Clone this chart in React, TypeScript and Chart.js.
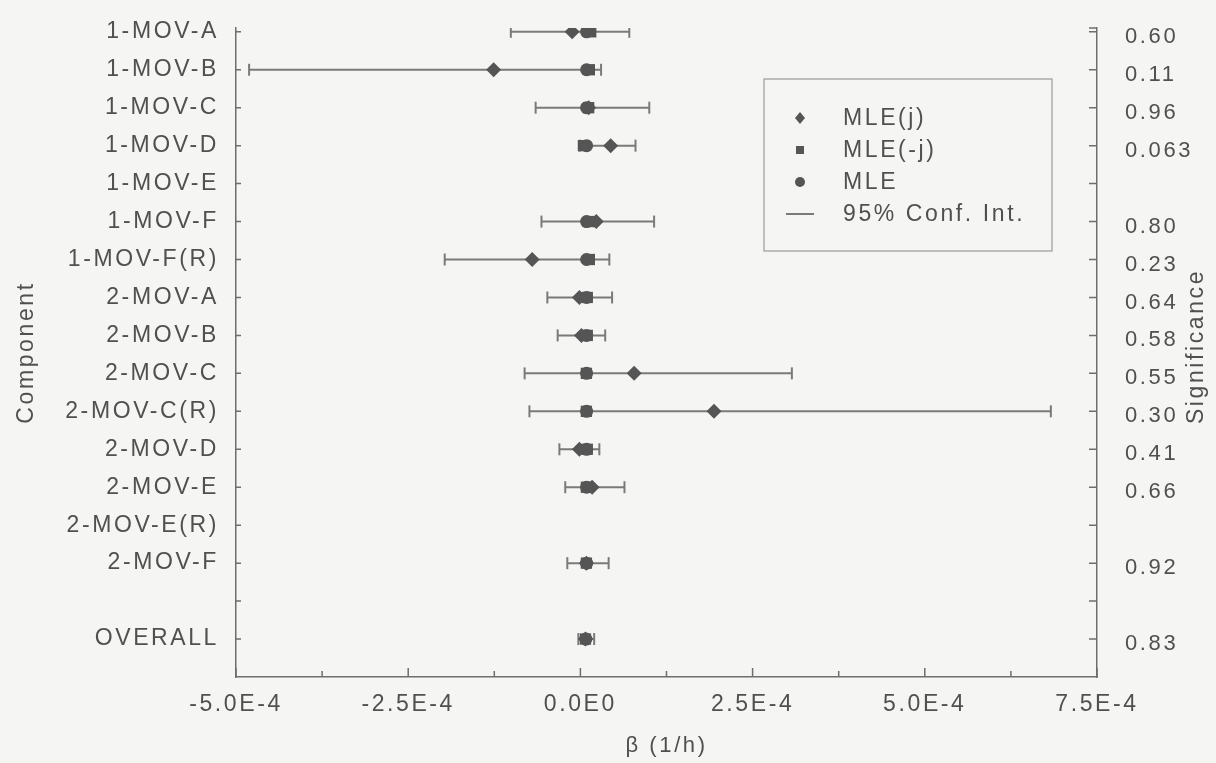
import React, { useEffect, useRef } from 'react';
import { Chart, registerables } from 'chart.js';

Chart.register(...registerables);

// ---------------- data ----------------
const categories = [
  '1-MOV-A', '1-MOV-B', '1-MOV-C', '1-MOV-D', '1-MOV-E', '1-MOV-F', '1-MOV-F(R)',
  '2-MOV-A', '2-MOV-B', '2-MOV-C', '2-MOV-C(R)', '2-MOV-D', '2-MOV-E', '2-MOV-E(R)',
  '2-MOV-F', '', 'OVERALL',
];

const significance = [
  '0.60', '0.11', '0.96', '0.063', '', '0.80', '0.23', '0.64', '0.58', '0.55',
  '0.30', '0.41', '0.66', '', '0.92', '', '0.83',
];

// MLE(j) – diamonds
const mleJ = [
  -1.2e-5, -1.26e-4, 1.2e-5, 4.4e-5, null, 2.3e-5, -7.0e-5, -1.5e-6, 1.5e-6, 7.8e-5,
  1.94e-4, -1.5e-6, 1.7e-5, null, 8.7e-6, null, 7.3e-6,
];

// MLE(-j) – squares
const mleNotJ = [
  1.5e-5, 1.3e-5, 1.2e-5, 4.4e-6, null, 1.3e-5, 1.3e-5, 1.0e-5, 1.0e-5, 8.7e-6,
  8.7e-6, 1.0e-5, 8.7e-6, null, 8.7e-6, null, 7.3e-6,
];

// MLE – circles
const mleAll = [
  9e-6, 9e-6, 9e-6, 9e-6, null, 9e-6, 9e-6, 9e-6, 9e-6, 9e-6,
  9e-6, 9e-6, 9e-6, null, 9e-6, null, 8e-6,
];

// 95% confidence interval bounds
const ciLow = [
  -1.01e-4, -4.81e-4, -6.5e-5, -1.0e-6, null, -5.65e-5, -1.97e-4, -4.8e-5, -3.3e-5, -8.1e-5,
  -7.4e-5, -3.05e-5, -2.2e-5, null, -1.9e-5, null, -3.0e-6,
];
const ciHigh = [
  7.1e-5, 3.0e-5, 1.0e-4, 8.0e-5, null, 1.07e-4, 4.2e-5, 4.6e-5, 3.6e-5, 3.07e-4,
  6.83e-4, 2.75e-5, 6.4e-5, null, 4.1e-5, null, 2.0e-5,
];

const xTickValues = [-5e-4, -3.75e-4, -2.5e-4, -1.25e-4, 0, 1.25e-4, 2.5e-4, 3.75e-4, 5e-4, 6.25e-4, 7.5e-4];
const xTickLabels = ['-5.0E-4', '', '-2.5E-4', '', '0.0E0', '', '2.5E-4', '', '5.0E-4', '', '7.5E-4'];

// ---------------- styles ----------------
const FONT = "'Liberation Sans', Arial, Helvetica, sans-serif";
const TEXT = '#505050';
const AXIS = '#6e6e6e';
const MARK = '#555555';
const CI_COLOR = '#7a7a7a';
const BG = '#f5f5f3';

const toPts = (arr: (number | null)[]) =>
  arr.map((v, i) => (v === null ? null : { x: v, y: i })).filter(Boolean) as { x: number; y: number }[];

const ciPts: { x: number; y: number }[] = [];
ciLow.forEach((lo, i) => {
  const hi = ciHigh[i];
  if (lo !== null && hi !== null) {
    ciPts.push({ x: lo, y: i });
    ciPts.push({ x: hi, y: i });
  }
});

const noPad = (s: any) => {
  s.paddingTop = 0;
  s.paddingBottom = 0;
};

const decorPlugin = {
  id: 'decor',
  beforeUpdate(chart: any) {
    chart.ctx.letterSpacing = '2.6px';
  },
  beforeDraw(chart: any) {
    const ctx = chart.ctx;
    ctx.save();
    ctx.fillStyle = BG;
    ctx.fillRect(0, 0, chart.width, chart.height);
    ctx.restore();
  },
  afterDraw(chart: any) {
    const { ctx, chartArea, scales } = chart;
    const xs = scales.x;
    const ys = scales.y;
    const { left, right, top, bottom } = chartArea;
    ctx.save();
    ctx.strokeStyle = AXIS;
    ctx.lineWidth = 1.5;
    ctx.beginPath();
    xTickValues.forEach((v, i) => {
      const px = xs.getPixelForValue(v);
      const len = xTickLabels[i] ? 9 : 6;
      ctx.moveTo(px, bottom);
      ctx.lineTo(px, bottom - len);
    });
    categories.forEach((_, i) => {
      const py = ys.getPixelForValue(i);
      ctx.moveTo(left, py);
      ctx.lineTo(left + 5, py);
      ctx.moveTo(right, py);
      ctx.lineTo(right - 8, py);
    });
    ctx.moveTo(right, top);
    ctx.lineTo(right - 8, top);
    ctx.stroke();

    // right axis title (reads bottom-to-top)
    ctx.fillStyle = TEXT;
    ctx.font = `23px ${FONT}`;
    ctx.textAlign = 'center';
    ctx.textBaseline = 'middle';
    ctx.save();
    ctx.translate(chart.width - 19, (top + bottom) / 2 - 6);
    ctx.rotate(-Math.PI / 2);
    ctx.fillText('Significance', 0, 0);
    ctx.restore();

    // legend box
    const bx = left + 528;
    const by = top + 51;
    const bw = 288;
    const bh = 172;
    ctx.strokeStyle = '#9a9a9a';
    ctx.lineWidth = 1.2;
    ctx.strokeRect(bx, by, bw, bh);
    const order = [0, 1, 2, 3];
    const sx = bx + 36;
    const tx = bx + 79;
    order.forEach((di, k) => {
      const ds = chart.data.datasets[di];
      const cy = by + 39 + k * 32;
      ctx.fillStyle = MARK;
      ctx.strokeStyle = MARK;
      if (ds.pointStyle === 'rectRot') {
        ctx.beginPath();
        ctx.moveTo(sx, cy - 6);
        ctx.lineTo(sx + 5, cy);
        ctx.lineTo(sx, cy + 6);
        ctx.lineTo(sx - 5, cy);
        ctx.closePath();
        ctx.fill();
      } else if (ds.pointStyle === 'rect') {
        ctx.fillRect(sx - 4, cy - 4, 8, 8);
      } else if (ds.pointStyle === 'circle') {
        ctx.beginPath();
        ctx.arc(sx, cy, 5, 0, Math.PI * 2);
        ctx.fill();
      } else {
        ctx.strokeStyle = CI_COLOR;
        ctx.lineWidth = 2;
        ctx.beginPath();
        ctx.moveTo(sx - 14, cy);
        ctx.lineTo(sx + 14, cy);
        ctx.stroke();
      }
      ctx.fillStyle = TEXT;
      ctx.font = `23px ${FONT}`;
      ctx.textAlign = 'left';
      ctx.textBaseline = 'middle';
      ctx.fillText(ds.label, tx, cy + 1);
    });
    ctx.restore();
  },
};

export default function App() {
  const ref = useRef<HTMLCanvasElement | null>(null);

  useEffect(() => {
    if (!ref.current) return;
    const chart = new Chart(ref.current, {
      type: 'scatter',
      data: {
        datasets: [
          {
            label: 'MLE(j)',
            data: toPts(mleJ),
            pointStyle: 'rectRot',
            pointRadius: 7.5,
            backgroundColor: MARK,
            borderColor: MARK,
            borderWidth: 0,
            order: 1,
          },
          {
            label: 'MLE(-j)',
            data: toPts(mleNotJ),
            pointStyle: 'rect',
            pointRadius: 8,
            backgroundColor: MARK,
            borderColor: MARK,
            borderWidth: 0,
            order: 2,
          },
          {
            label: 'MLE',
            data: toPts(mleAll),
            pointStyle: 'circle',
            pointRadius: 6.5,
            backgroundColor: MARK,
            borderColor: MARK,
            borderWidth: 0,
            order: 3,
          },
          {
            label: '95% Conf. Int.',
            data: ciPts,
            showLine: true,
            borderColor: CI_COLOR,
            borderWidth: 2,
            pointStyle: 'line',
            pointRotation: 90,
            pointRadius: 6,
            pointBorderWidth: 2,
            pointBorderColor: CI_COLOR,
            backgroundColor: CI_COLOR,
            segment: {
              borderColor: (c: any) => (c.p0.parsed.y === c.p1.parsed.y ? CI_COLOR : 'rgba(0,0,0,0)'),
            },
            order: 4,
          } as any,
        ],
      },
      options: {
        animation: false,
        responsive: true,
        maintainAspectRatio: false,
        layout: { padding: { top: 28, right: 0, bottom: 0, left: 0 } },
        plugins: {
          legend: { display: false },
          tooltip: { enabled: false },
        },
        scales: {
          x: {
            type: 'linear',
            position: 'bottom',
            min: -5e-4,
            max: 7.5e-4,
            afterBuildTicks: (s: any) => {
              s.ticks = xTickValues.map((v) => ({ value: v }));
            },
            afterFit: (s: any) => {
              s.height = 86;
              s.paddingLeft = 0;
              s.paddingRight = 0;
            },
            grid: { display: false },
            border: { display: true, color: AXIS, width: 1.5 },
            ticks: {
              autoSkip: false,
              maxRotation: 0,
              padding: 6,
              color: TEXT,
              font: { family: FONT, size: 23 },
              callback: (_v: any, i: number) => xTickLabels[i],
            },
            title: {
              display: true,
              text: 'β (1/h)',
              color: TEXT,
              font: { family: FONT, size: 22 },
              padding: { top: 0, bottom: 4 },
            },
          },
          y: {
            type: 'linear',
            position: 'left',
            reverse: true,
            min: -0.1,
            max: 17,
            afterBuildTicks: (s: any) => {
              s.ticks = categories.map((_, i) => ({ value: i }));
            },
            afterFit: (s: any) => {
              s.width = 236;
              noPad(s);
            },
            grid: { display: false },
            border: { display: true, color: AXIS, width: 1.5 },
            ticks: {
              autoSkip: false,
              padding: 9,
              color: TEXT,
              font: { family: FONT, size: 23 },
              callback: (v: any) => categories[v] ?? '',
            },
            title: {
              display: true,
              text: 'Component',
              color: TEXT,
              font: { family: FONT, size: 23 },
              padding: { top: 13, bottom: 0 },
            },
          },
          y2: {
            type: 'linear',
            position: 'right',
            reverse: true,
            min: -0.1,
            max: 17,
            afterBuildTicks: (s: any) => {
              s.ticks = significance.map((_, i) => ({ value: i }));
            },
            afterFit: (s: any) => {
              s.width = 119;
              noPad(s);
            },
            grid: { display: false },
            border: { display: true, color: AXIS, width: 1.5 },
            ticks: {
              autoSkip: false,
              padding: 20,
              labelOffset: 5,
              color: TEXT,
              font: { family: FONT, size: 22 },
              callback: (v: any) => significance[v] ?? '',
            },
          },
        },
      },
      plugins: [decorPlugin],
    });
    return () => chart.destroy();
  }, []);

  return (
    <div style={{ position: 'absolute', left: 0, top: 0, width: 1216, height: 763, background: BG }}>
      <canvas ref={ref} />
    </div>
  );
}
